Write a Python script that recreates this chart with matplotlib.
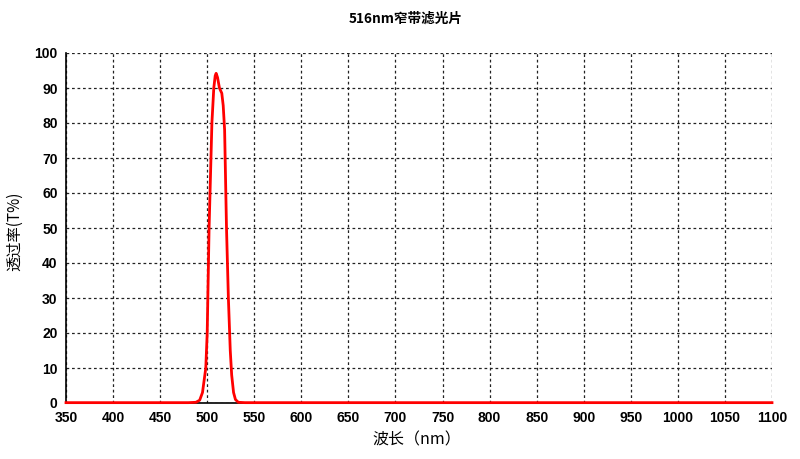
import matplotlib
matplotlib.use("Agg")
import matplotlib.pyplot as plt

plt.rcParams['font.family'] = ['Noto Sans CJK SC', 'DejaVu Sans']

wavelength = [350, 480, 488, 492, 495, 497, 498.5, 500, 502, 505, 507, 508.5, 509.5,
              511, 513, 515.5, 517, 518.5, 520.5, 522.5, 524.5, 526, 528, 530, 533, 540, 1100]
transmission = [0.1, 0.1, 0.2, 0.8, 3, 7, 10, 20, 50, 80, 90, 93.5, 94.2,
                93, 90, 88.5, 85, 78, 50, 30, 15, 8, 3, 1, 0.2, 0.1, 0.1]

xticks = list(range(350, 1101, 50))
yticks = list(range(0, 101, 10))

fig = plt.figure(figsize=(8, 4.59), dpi=100)
ax = fig.add_axes([66/800, 1-403/459, (772-66)/800, (403-53)/459])
ax.plot(wavelength, transmission, color='#ff0000', lw=2.0, zorder=3, clip_on=False)
ax.set_xlim(350, 1100)
ax.set_ylim(0, 100)
ax.set_xticks(xticks)
ax.set_yticks(yticks)
ax.grid(True, color='#222222', linestyle=(0, (2.2, 2.2)), linewidth=0.9)
ax.tick_params(axis='both', labelsize=10, length=0, pad=6)
for lab in ax.get_xticklabels() + ax.get_yticklabels():
    lab.set_fontfamily(['Liberation Sans', 'DejaVu Sans'])
    lab.set_fontweight('bold')
ax.spines['top'].set_visible(False)
ax.spines['right'].set_visible(False)
for s in ('left', 'bottom'):
    ax.spines[s].set_linewidth(1.2)
    ax.spines[s].set_color('black')

fig.text(406/800, 1-19/459, '516nm窄带滤光片', ha='center', va='center', fontsize=9.8, fontweight='bold')
fig.text(417/800, 1-440/459, '波长（nm）', ha='center', va='center', fontsize=11.5)
fig.text(15/800, 1-231/459, '透过率(T%)', ha='center', va='center', fontsize=11, rotation=90)

fig.savefig('out.png', dpi=100)
